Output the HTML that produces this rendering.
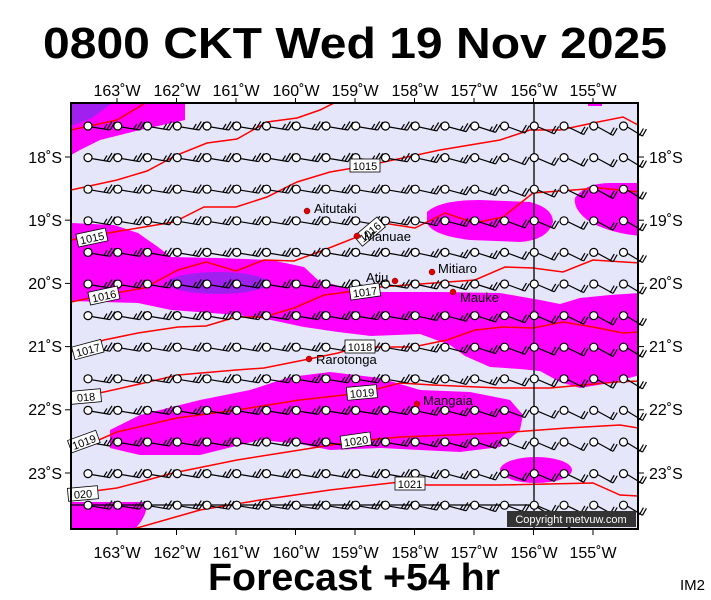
<!DOCTYPE html>
<html><head><meta charset="utf-8"><style>
body{margin:0;background:#fff;}
svg{display:block;font-family:"Liberation Sans",sans-serif;}
</style></head><body>
<svg id="s" width="711" height="600" viewBox="0 0 711 600" xmlns="http://www.w3.org/2000/svg">
<defs><clipPath id="c"><rect x="71" y="103" width="567" height="426"/></clipPath></defs>
<text x="355" y="58" font-size="44" font-weight="bold" text-anchor="middle" textLength="624" lengthAdjust="spacingAndGlyphs">0800 CKT Wed 19 Nov 2025</text>
<rect x="71" y="103" width="567" height="426" fill="#e6e6fa"/>
<g clip-path="url(#c)">
<path d="M71,103 L185,103 L185,120 L140,130 L100,140 L80,150 L71,155Z" fill="#f0f"/>
<path d="M71,103 L112,103 L92,118 L71,126Z" fill="#a020f0"/>
<rect x="588" y="103" width="14" height="3" fill="#f0f"/>
<path d="M71,223 L114,225 L138,233 L158,247 L171,257 L218,258 L271,260 L304,267 L318,280 L360,292 L440,292 L500,293 L540,300 L560,304 L580,298 L610,295 L640,293 L640,375 L610,383 L580,388 L560,382 L540,371 L520,369 L490,367 L465,356 L450,345 L420,334 L371,336 L338,332 L304,327 L271,320 L238,315 L171,310 L138,303 L71,301Z" fill="#f0f"/>
<ellipse cx="218" cy="283" rx="50" ry="11" fill="#a020f0"/>
<path d="M427,212 Q440,200 480,200 L530,202 Q553,208 553,222 Q548,240 520,242 L470,240 Q430,235 427,222Z" fill="#f0f"/>
<path d="M575,198 Q585,183 610,183 L640,183 L640,236 Q610,233 590,222 Q573,210 575,198Z" fill="#f0f"/>
<path d="M110,430 L140,415 L200,400 L250,390 L290,377 L330,372 L380,378 L420,390 L470,392 L510,400 L523,415 L520,430 L500,447 L460,452 L420,450 L380,448 L330,450 L300,444 L260,440 L200,455 L140,455 L110,448Z" fill="#f0f"/>
<ellipse cx="536" cy="470" rx="36" ry="13" fill="#f0f"/>
<path d="M71,502 L145,502 Q150,512 135,529 L71,529Z" fill="#f0f"/>
<g fill="none" stroke="#f00" stroke-width="1.5">
<polyline points="71,130 117,120 142,105 150,100"/>
<polyline points="71,190 117,180 147,171 177,155 207,143 237,139 267,122 297,118 320,110 340,100"/>
<polyline points="71,240 114,232 174,222 204,207 236,207 267,197 297,182 330,172 365,166 440,150 500,140 530,130 560,130 593,123 623,117 638,125"/>
<polyline points="71,302 104,295 144,288 178,270 206,262 236,271 264,260 294,261 324,250 357,237 383,223 415,228 445,213 475,223 503,217 533,193 573,190 600,188 640,192"/>
<polyline points="71,352 104,340 138,333 178,327 206,326 236,317 264,317 294,308 324,295 340,293 380,287 475,280 505,267 533,268 563,272 593,260 640,263"/>
<polyline points="71,398 104,392 144,383 178,375 236,370 264,368 304,360 338,353 358,347 383,347 413,347 447,340 475,330 503,327 533,328 563,322 593,327 623,333 640,332"/>
<polyline points="71,452 117,432 177,418 237,410 300,400 362,393 400,383 433,385 500,388 550,388 617,382 640,381"/>
<polyline points="71,494 117,488 140,482 173,473 237,460 300,450 356,441 400,437 500,433 567,428 620,425 638,428"/>
<polyline points="130,530 200,510 260,500 330,490 400,482 427,485 500,485 593,483 620,495 638,496"/>
</g>
<g stroke="#000" stroke-width="1.3" fill="none">
<line x1="534" y1="103" x2="534" y2="529"/>
<line x1="71" y1="505" x2="534" y2="505"/>
<line x1="534" y1="505" x2="573" y2="530"/>
</g>
</g>
<g id="barbs" stroke="#000" stroke-width="1.2" fill="none"></g>
<g font-size="11" text-anchor="middle">
<g transform="translate(92,238) rotate(-12)"><rect x="-15" y="-7" width="30" height="13" fill="#fff" stroke="#000" stroke-width="0.8"/><text y="4">1015</text></g>
<g transform="translate(104,296) rotate(-12)"><rect x="-15" y="-7" width="30" height="13" fill="#fff" stroke="#000" stroke-width="0.8"/><text y="4">1016</text></g>
<g transform="translate(88,350) rotate(-15)"><rect x="-15" y="-7" width="30" height="13" fill="#fff" stroke="#000" stroke-width="0.8"/><text y="4">1017</text></g>
<g transform="translate(86,397) rotate(-5)"><rect x="-15" y="-7" width="30" height="13" fill="#fff" stroke="#000" stroke-width="0.8"/><text y="4">018</text></g>
<g transform="translate(84,442) rotate(-20)"><rect x="-15" y="-7" width="30" height="13" fill="#fff" stroke="#000" stroke-width="0.8"/><text y="4">1019</text></g>
<g transform="translate(83,494) rotate(-5)"><rect x="-15" y="-7" width="30" height="13" fill="#fff" stroke="#000" stroke-width="0.8"/><text y="4">020</text></g>
<g transform="translate(365,166)"><rect x="-15" y="-7" width="30" height="13" fill="#fff" stroke="#000" stroke-width="0.8"/><text y="4">1015</text></g>
<g transform="translate(370,232) rotate(-40)"><rect x="-15" y="-7" width="30" height="13" fill="#fff" stroke="#000" stroke-width="0.8"/><text y="4">1016</text></g>
<g transform="translate(365,292) rotate(-8)"><rect x="-15" y="-7" width="30" height="13" fill="#fff" stroke="#000" stroke-width="0.8"/><text y="4">1017</text></g>
<g transform="translate(360,347)"><rect x="-15" y="-7" width="30" height="13" fill="#fff" stroke="#000" stroke-width="0.8"/><text y="4">1018</text></g>
<g transform="translate(362,393) rotate(-5)"><rect x="-15" y="-7" width="30" height="13" fill="#fff" stroke="#000" stroke-width="0.8"/><text y="4">1019</text></g>
<g transform="translate(356,441) rotate(-8)"><rect x="-15" y="-7" width="30" height="13" fill="#fff" stroke="#000" stroke-width="0.8"/><text y="4">1020</text></g>
<g transform="translate(410,484)"><rect x="-15" y="-7" width="30" height="13" fill="#fff" stroke="#000" stroke-width="0.8"/><text y="4">1021</text></g>
</g>
<g font-size="13" fill="#000">
<circle cx="307" cy="211" r="3" fill="#e00000" stroke="#600" stroke-width="0.5"/><text x="314" y="213">Aitutaki</text>
<circle cx="357" cy="236" r="3" fill="#e00000" stroke="#600" stroke-width="0.5"/><text x="364" y="241">Manuae</text>
<circle cx="395" cy="281" r="3" fill="#e00000" stroke="#600" stroke-width="0.5"/><text x="366" y="282">Atiu</text>
<circle cx="432" cy="272" r="3" fill="#e00000" stroke="#600" stroke-width="0.5"/><text x="438" y="273">Mitiaro</text>
<circle cx="453" cy="292" r="3" fill="#e00000" stroke="#600" stroke-width="0.5"/><text x="460" y="302">Mauke</text>
<circle cx="309" cy="359" r="3" fill="#e00000" stroke="#600" stroke-width="0.5"/><text x="316" y="364">Rarotonga</text>
<circle cx="417" cy="404" r="3" fill="#e00000" stroke="#600" stroke-width="0.5"/><text x="423" y="405">Mangaia</text>
</g>
<rect x="507" y="511" width="129" height="16" fill="#333"/>
<text x="571" y="523" font-size="11" fill="#fff" text-anchor="middle">Copyright metvuw.com</text>
<rect x="71" y="103" width="567" height="426" fill="none" stroke="#000" stroke-width="2"/>
<g id="ticks" stroke="#000" stroke-width="1"></g>
<g font-size="16" text-anchor="middle">
<text x="117" y="96">163˚W</text><text x="177" y="96">162˚W</text><text x="236" y="96">161˚W</text><text x="296" y="96">160˚W</text><text x="355" y="96">159˚W</text><text x="415" y="96">158˚W</text><text x="474" y="96">157˚W</text><text x="534" y="96">156˚W</text><text x="593" y="96">155˚W</text>
<text x="117" y="558">163˚W</text><text x="177" y="558">162˚W</text><text x="236" y="558">161˚W</text><text x="296" y="558">160˚W</text><text x="355" y="558">159˚W</text><text x="415" y="558">158˚W</text><text x="474" y="558">157˚W</text><text x="534" y="558">156˚W</text><text x="593" y="558">155˚W</text>
</g>
<g font-size="16" text-anchor="end">
<text x="62" y="163">18˚S</text><text x="62" y="226">19˚S</text><text x="62" y="289">20˚S</text><text x="62" y="352">21˚S</text><text x="62" y="415">22˚S</text><text x="62" y="479">23˚S</text>
</g>
<g font-size="16">
<text x="649" y="163">18˚S</text><text x="649" y="226">19˚S</text><text x="649" y="289">20˚S</text><text x="649" y="352">21˚S</text><text x="649" y="415">22˚S</text><text x="649" y="479">23˚S</text>
</g>
<text x="354" y="590" font-size="38" font-weight="bold" text-anchor="middle" textLength="292" lengthAdjust="spacingAndGlyphs">Forecast +54 hr</text>
<text x="680" y="590" font-size="15">IM2</text>
</svg>
<script>
var NS="http://www.w3.org/2000/svg";
function el(p,n,a){var e=document.createElementNS(NS,n);for(var k in a)e.setAttribute(k,a[k]);p.appendChild(e);return e;}
var g=document.getElementById("barbs");
for(var j=0;j<13;j++){var y=126+j*31.6;
 for(var i=0;i<19;i++){var x=88+i*29.75;
  var t=Math.max(0,(x-380)/240); var dy=4+t*6; var dx=22-t*3;
  var ex=x+dx, ey=y+dy;
  el(g,"line",{x1:x+4,y1:y+1,x2:ex,y2:ey});
  var fx=5-t*1, fy=-8+t*1;
  el(g,"line",{x1:ex,y1:ey,x2:ex+fx,y2:ey+fy});
  el(g,"line",{x1:ex-3,y1:ey-0.6,x2:ex-3+fx,y2:ey-0.6+fy});
  if(t<0.5) el(g,"line",{x1:ex-6,y1:ey-1.2,x2:ex-6+fx*0.6,y2:ey-1.2+fy*0.6});
  el(g,"circle",{cx:x,cy:y,r:4,fill:"#fff"});
 }}
var tk=document.getElementById("ticks");
for(var i=0;i<9;i++){var x=117+i*59.5;el(tk,"line",{x1:x,y1:98,x2:x,y2:103});el(tk,"line",{x1:x,y1:529,x2:x,y2:535});}
for(var j=0;j<6;j++){var y=157+j*63.2;el(tk,"line",{x1:65,y1:y,x2:71,y2:y});el(tk,"line",{x1:638,y1:y,x2:644,y2:y});}
</script>
</body></html>
